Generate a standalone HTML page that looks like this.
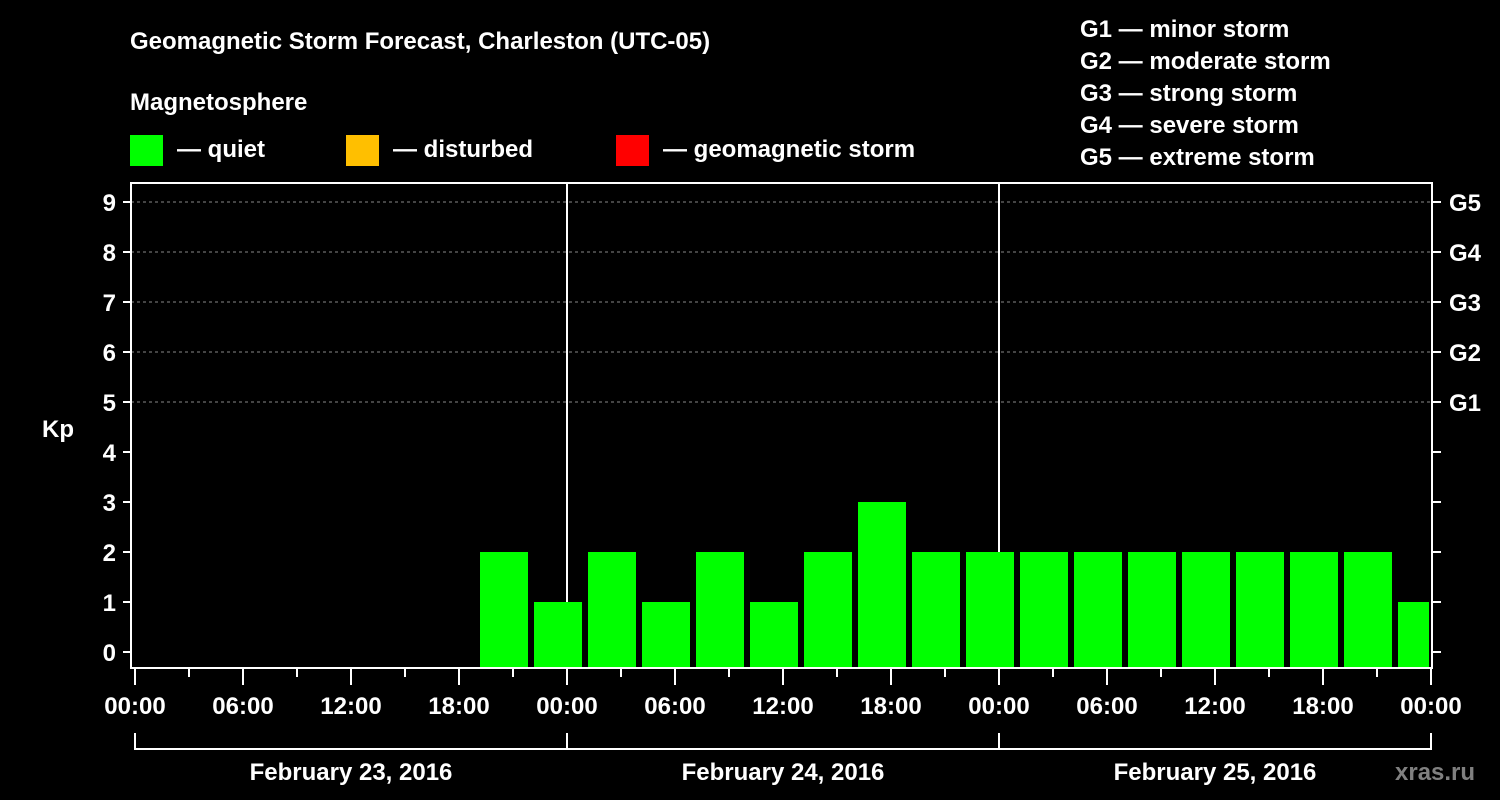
<!DOCTYPE html>
<html><head><meta charset="utf-8"><style>
html,body{margin:0;padding:0;background:#000;}
svg{display:block;font-family:"Liberation Sans",Arial,sans-serif;font-weight:bold;}
</style></head><body>
<svg id="chart" width="1500" height="800" xmlns="http://www.w3.org/2000/svg">
<rect x="0" y="0" width="1500" height="800" fill="#000"/>
<text x="130" y="49" fill="#fff" font-size="24">Geomagnetic Storm Forecast, Charleston (UTC-05)</text>
<text x="130" y="110" fill="#fff" font-size="24">Magnetosphere</text>
<g><rect x="130" y="135" width="33" height="31" fill="#00ff00"/><text x="177" y="157" fill="#fff" font-size="24">— quiet</text></g>
<g><rect x="346" y="135" width="33" height="31" fill="#ffbf00"/><text x="393" y="157" fill="#fff" font-size="24">— disturbed</text></g>
<g><rect x="616" y="135" width="33" height="31" fill="#ff0000"/><text x="663" y="157" fill="#fff" font-size="24">— geomagnetic storm</text></g>
<g fill="#fff" font-size="24">
<text x="1080" y="37">G1 — minor storm</text>
<text x="1080" y="69">G2 — moderate storm</text>
<text x="1080" y="101">G3 — strong storm</text>
<text x="1080" y="133">G4 — severe storm</text>
<text x="1080" y="165">G5 — extreme storm</text>
</g>
<text x="42" y="437" fill="#fff" font-size="24">Kp</text>
<g id="grid"></g>
<g id="bars"></g>
<g id="axes"></g>
<text x="1395" y="780" fill="#808080" font-size="24">xras.ru</text>
</svg>
<script>
const kpValues = [2,1,2,1,2,1,2,3,2,2,2,2,2,2,2,2,2,1];
const barStartHours = [19,22,25,28,31,34,37,40,43,46,49,52,55,58,61,64,67,70];
const dayLabels = ["February 23, 2016","February 24, 2016","February 25, 2016"];
const yTicks = [0,1,2,3,4,5,6,7,8,9];
const gLabels = ["G1","G2","G3","G4","G5"];
const gLevels = [5,6,7,8,9];
const timeLabels = ["00:00","06:00","12:00","18:00"];

const NS="http://www.w3.org/2000/svg";
const X0=135, PXH=18, Y0=652, PXK=50, LEFT=131, RIGHT=1432, TOP=183, BOTTOM=668;
const xs=h=>X0+h*PXH, ys=k=>Y0-k*PXK;
function mk(tag,attrs,parent){const e=document.createElementNS(NS,tag);for(const k in attrs)e.setAttribute(k,attrs[k]);parent.appendChild(e);return e;}
const grid=document.getElementById('grid'), bars=document.getElementById('bars'), axes=document.getElementById('axes');

gLevels.forEach(k=>{
  const l=mk('line',{x1:LEFT,x2:RIGHT,y1:ys(k),y2:ys(k),stroke:'#888','stroke-width':1,'stroke-dasharray':'3,3'},grid);
  
  
});
[24,48].forEach(h=>{
  const l=mk('line',{x1:xs(h),x2:xs(h),y1:TOP,y2:BOTTOM,stroke:'#fff','stroke-width':2},grid);
  
  
});

kpValues.forEach((v,i)=>{
  const x1=xs(barStartHours[i])+3;
  let x2=xs(barStartHours[i]+3)-3;
  if(x2>RIGHT-3) x2=RIGHT-3;
  const r=mk('rect',{x:x1,y:ys(v),width:x2-x1,height:BOTTOM-ys(v),fill:'#00ff00'},bars);
  
  
});

const frame=mk('rect',{x:LEFT,y:TOP,width:RIGHT-LEFT,height:BOTTOM-TOP,fill:'none',stroke:'#fff','stroke-width':2},axes);



yTicks.forEach(k=>{
  mk('line',{x1:123,x2:LEFT,y1:ys(k),y2:ys(k),stroke:'#fff','stroke-width':2},axes);
  mk('line',{x1:RIGHT,x2:1441,y1:ys(k),y2:ys(k),stroke:'#fff','stroke-width':2},axes);
  const t=mk('text',{x:116,y:ys(k)+9,fill:'#fff','font-size':24,'text-anchor':'end'},axes);
  t.textContent=k;
  
  
});
gLabels.forEach((g,i)=>{
  const t=mk('text',{x:1449,y:ys(gLevels[i])+9,fill:'#fff','font-size':24},axes);
  t.textContent=g;
  
  
});
for(let h=0;h<=72;h+=3){
  const major=h%6===0;
  mk('line',{x1:xs(h),x2:xs(h),y1:BOTTOM,y2:major?685:677,stroke:'#fff','stroke-width':2},axes);
  if(major){
    const t=mk('text',{x:xs(h),y:714,fill:'#fff','font-size':24,'text-anchor':'middle'},axes);
    t.textContent=timeLabels[(h/6)%4];
    
    
  }
}
mk('path',{d:`M${xs(0)},733 V749 H${xs(72)} V733 M${xs(24)},733 V749 M${xs(48)},733 V749`,fill:'none',stroke:'#fff','stroke-width':2},axes);
dayLabels.forEach((d,i)=>{
  const t=mk('text',{x:xs(i*24+12),y:780,fill:'#fff','font-size':24,'text-anchor':'middle'},axes);
  t.textContent=d;
  
  
});
</script>
</body></html>
